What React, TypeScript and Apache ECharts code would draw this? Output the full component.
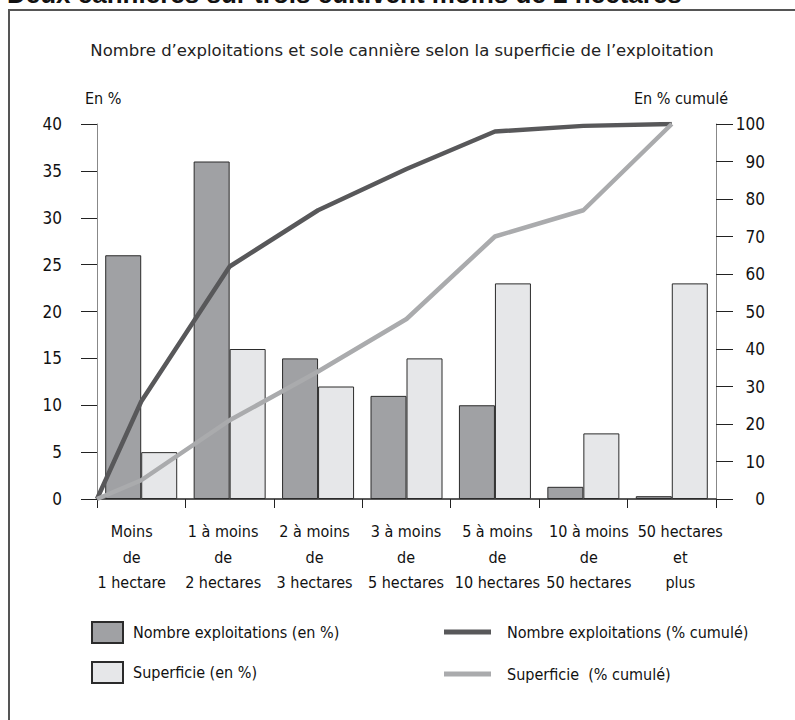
import React, { useEffect, useRef } from "react";
import * as echarts from "echarts";

const categories = [
  "Moins\nde\n1 hectare",
  "1 à moins\nde\n2 hectares",
  "2 à moins\nde\n3 hectares",
  "3 à moins\nde\n5 hectares",
  "5 à moins\nde\n10 hectares",
  "10 à moins\nde\n50 hectares",
  "50 hectares\net\nplus",
];
const exploitPct = [26, 36, 15, 11, 10, 1.3, 0.3];
const surfacePct = [5, 16, 12, 15, 23, 7, 23];
// cumulative values: origin point then one per category
const exploitCum = [0, 26, 62, 77, 88, 98, 99.5, 100];
const surfaceCum = [0, 5, 21, 34, 48, 70, 77, 100];

const leftMax = 40;
const leftStep = 5;
const rightMax = 100;
const rightStep = 10;

const heading = "Deux cannières sur trois cultivent moins de 2 hectares";
const subtitle = "Nombre d’exploitations et sole cannière selon la superficie de l’exploitation";
const leftName = "En %";
const rightName = "En % cumulé";
const names = [
  "Nombre exploitations (en %)",
  "Superficie (en %)",
  "Nombre exploitations (% cumulé)",
  "Superficie  (% cumulé)",
];

const FONT = '"DejaVu Sans Condensed", "Liberation Sans Narrow", sans-serif';
const FS = 16;
const TXT = "#111111";

function cumPoints(vals: number[]) {
  return vals.map((v, i) => [i === 0 ? 0 : i - 0.5, v]);
}

export default function App() {
  const ref = useRef<HTMLDivElement>(null);
  useEffect(() => {
    if (!ref.current) return;
    const chart = echarts.init(ref.current, undefined, { renderer: "svg" });
    const option: any = {
      animation: false,
      backgroundColor: "#ffffff",
      textStyle: { fontFamily: FONT },
      graphic: [
        {
          type: "rect",
          shape: { x: 9, y: 10, width: 800, height: 730 },
          style: { fill: "none", stroke: "#555", lineWidth: 2 },
          silent: true,
        },
        {
          type: "text",
          x: 7,
          y: 7,
          style: {
            text: heading,
            font: 'bold 26px "Liberation Sans", Arial, sans-serif',
            fill: TXT,
            verticalAlign: "bottom",
          },
        },
        {
          type: "text",
          x: 402,
          y: 50,
          style: {
            text: subtitle,
            font: '16.5px "DejaVu Sans", sans-serif',
            fill: "#222",
            align: "center",
            verticalAlign: "middle",
          },
        },
        {
          type: "text",
          x: 85,
          y: 98,
          style: { text: leftName, font: FS + "px " + FONT, fill: TXT, verticalAlign: "middle" },
        },
        {
          type: "text",
          x: 728,
          y: 98,
          style: { text: rightName, font: FS + "px " + FONT, fill: TXT, align: "right", verticalAlign: "middle" },
        },
      ],
      legend: [
        {
          data: [names[0], names[1]],
          orient: "vertical",
          left: 91,
          top: 621,
          padding: 0,
          itemWidth: 31,
          itemHeight: 21,
          itemGap: 17,
          icon: "rect",
          textStyle: { fontSize: FS, color: TXT, fontFamily: FONT, padding: [0, 0, 0, 5] },
        },
        {
          data: [names[2], names[3]],
          orient: "vertical",
          left: 444,
          top: 624,
          padding: 0,
          itemWidth: 47,
          itemHeight: 5,
          itemGap: 26,
          icon: "rect",
          textStyle: { fontSize: FS, color: TXT, fontFamily: FONT, padding: [0, 0, 0, 11] },
        },
      ],
      grid: [
        { left: 97, right: 79, top: 124, bottom: 221 },
        { left: 86, width: 640, top: 124, bottom: 221 },
      ],
      xAxis: [
        {
          type: "category",
          gridIndex: 0,
          data: categories,
          axisLine: { lineStyle: { color: "#222", width: 1.5 } },
          axisTick: { show: true, length: 9, lineStyle: { color: "#222" } },
          axisLabel: { show: false },
          splitLine: { show: false },
        },
        { type: "value", gridIndex: 0, min: 0, max: 7, show: false },
        {
          type: "category",
          gridIndex: 1,
          data: categories,
          axisLine: { show: false },
          axisTick: { show: false },
          axisLabel: {
            interval: 0,
            margin: 20,
            fontSize: FS,
            lineHeight: 25.5,
            color: TXT,
            fontFamily: FONT,
          },
        },
      ],
      yAxis: [
        {
          type: "value",
          gridIndex: 0,
          position: "left",
          min: 0,
          max: leftMax,
          interval: leftStep,
          axisLine: { show: true, lineStyle: { color: "#888", width: 1 } },
          axisTick: { show: true, length: 16, lineStyle: { color: "#222" } },
          axisLabel: { margin: 35, fontSize: FS + 1, color: TXT, fontFamily: FONT },
          splitLine: { show: false },
        },
        {
          type: "value",
          gridIndex: 0,
          position: "right",
          min: 0,
          max: rightMax,
          interval: rightStep,
          axisLine: { show: true, lineStyle: { color: "#888", width: 1 } },
          axisTick: { show: true, length: 17, lineStyle: { color: "#222" } },
          axisLabel: { margin: 49, align: "right", fontSize: FS + 1, color: TXT, fontFamily: FONT },
          splitLine: { show: false },
        },
        { type: "value", gridIndex: 1, show: false },
      ],
      series: [
        {
          name: names[0],
          type: "bar",
          xAxisIndex: 0,
          yAxisIndex: 0,
          data: exploitPct,
          barWidth: 36,
          barGap: "0%",
          itemStyle: { color: "#a0a1a4", borderColor: "#2b2b2b", borderWidth: 1 },
        },
        {
          name: names[1],
          type: "bar",
          xAxisIndex: 0,
          yAxisIndex: 0,
          data: surfacePct,
          barWidth: 36,
          barGap: "0%",
          itemStyle: { color: "#e6e7e9", borderColor: "#2b2b2b", borderWidth: 1 },
        },
        {
          name: names[2],
          type: "line",
          xAxisIndex: 1,
          yAxisIndex: 1,
          data: cumPoints(exploitCum),
          symbol: "none",
          z: 5,
          lineStyle: { color: "#58585a", width: 4.5 },
          itemStyle: { color: "#58585a" },
        },
        {
          name: names[3],
          type: "line",
          xAxisIndex: 1,
          yAxisIndex: 1,
          data: cumPoints(surfaceCum),
          symbol: "none",
          z: 5,
          lineStyle: { color: "#aaabad", width: 4.5 },
          itemStyle: { color: "#aaabad" },
        },
      ],
    };
    chart.setOption(option);
    return () => chart.dispose();
  }, []);
  return (
    <div
      ref={ref}
      style={{ position: "fixed", left: 0, top: 0, width: 795, height: 720, background: "#fff" }}
    />
  );
}
